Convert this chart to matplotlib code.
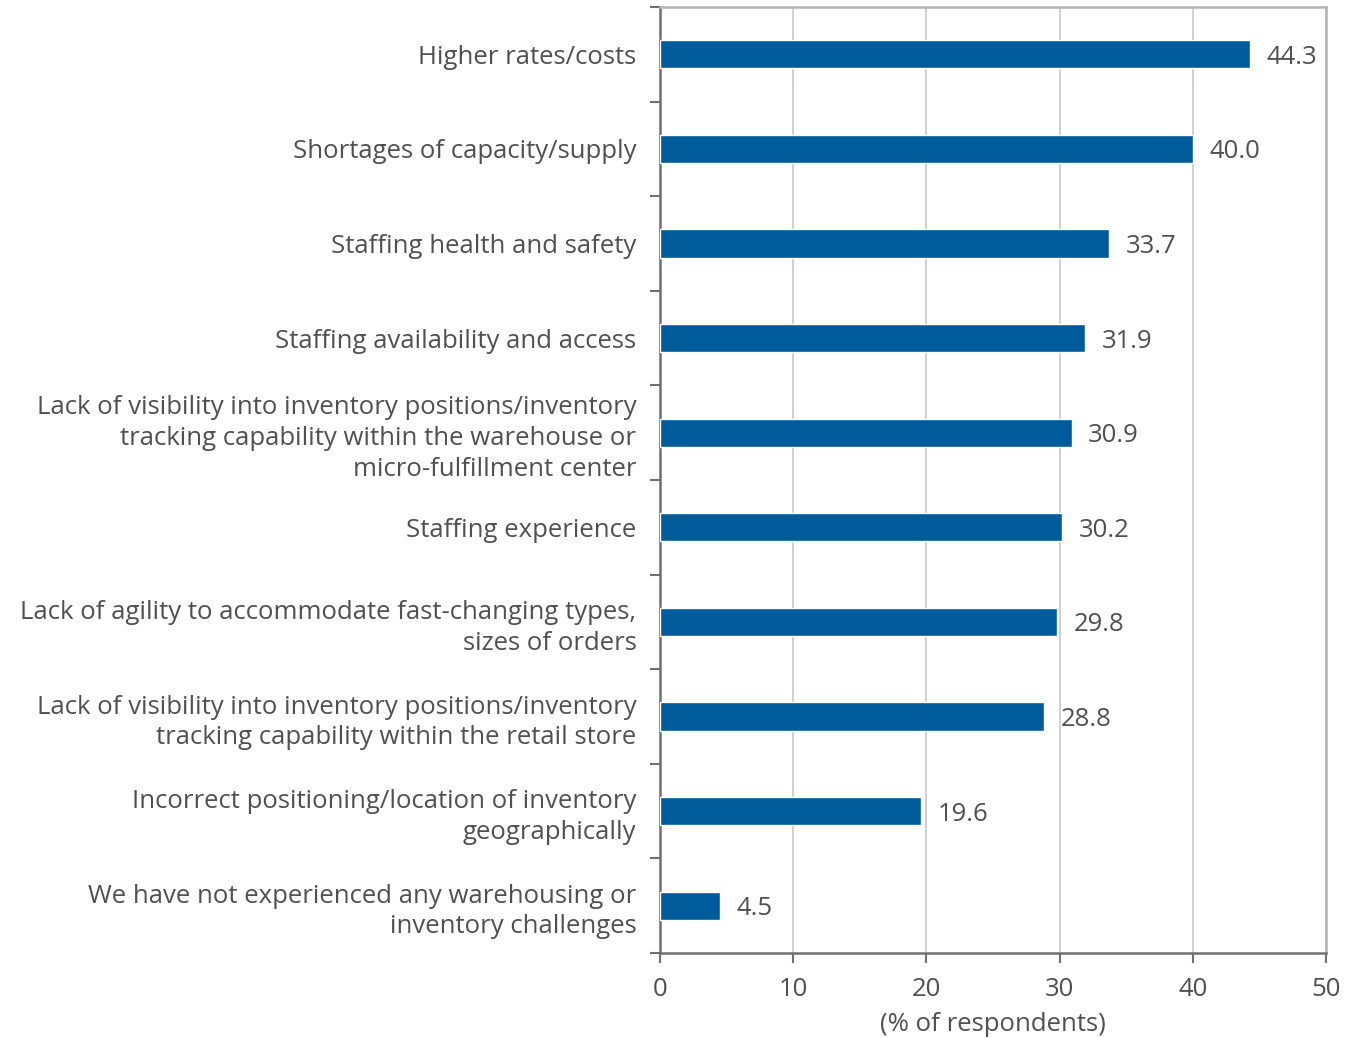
import numpy as np
import matplotlib.pyplot as plt

labels = [
    "Higher rates/costs",
    "Shortages of capacity/supply",
    "Staffing health and safety",
    "Staffing availability and access",
    "Lack of visibility into inventory positions/inventory\ntracking capability within the warehouse or\nmicro-fulfillment center",
    "Staffing experience",
    "Lack of agility to accommodate fast-changing types,\nsizes of orders",
    "Lack of visibility into inventory positions/inventory\ntracking capability within the retail store",
    "Incorrect positioning/location of inventory\ngeographically",
    "We have not experienced any warehousing or\ninventory challenges",
]
values = [44.3, 40.0, 33.7, 31.9, 30.9, 30.2, 29.8, 28.8, 19.6, 4.5]

plt.rcParams['font.family'] = ['Open Sans', 'DejaVu Sans']
txt = '#505050'
fs = 18.5

fig = plt.figure(figsize=(13.56, 10.38), dpi=100)
ax = fig.add_axes([660 / 1356, 1 - 953 / 1038, 666 / 1356, 946 / 1038])

y = np.arange(len(values))
ax.barh(y, values, height=0.3, color='#005b9a', edgecolor='white', linewidth=1, zorder=3)
for yi, v in zip(y, values):
    ax.text(v + 1.25, yi, f"{v:.1f}", va='center_baseline', ha='left', fontsize=fs, color=txt)

ax.set_xlim(0, 50)
ax.set_ylim(len(values) - 0.5, -0.5)
ax.set_xticks(range(0, 51, 10))
ax.set_yticks(y)
ax.set_yticklabels(labels, fontsize=fs, color=txt, linespacing=1.3)
ax.set_yticks(np.arange(-0.5, len(values), 1), minor=True)
ax.tick_params(axis='y', which='major', length=0, pad=17)
ax.tick_params(axis='y', which='minor', length=7, width=1.5, color='#707070', direction='out')
ax.tick_params(axis='x', length=7, width=1.5, color='#707070', labelsize=fs, labelcolor=txt, pad=10)
ax.grid(axis='x', color='#c8c8c8', linewidth=1.2, zorder=0)

for s in ['left', 'bottom']:
    ax.spines[s].set_color('#707070')
    ax.spines[s].set_linewidth(1.8)
for s in ['top', 'right']:
    ax.spines[s].set_color('#b4b4b4')
    ax.spines[s].set_linewidth(1.8)

ax.set_xlabel("(% of respondents)", fontsize=fs, color=txt)
ax.xaxis.set_label_coords(0.5, -0.062)

fig.savefig('out.png', dpi=100)
